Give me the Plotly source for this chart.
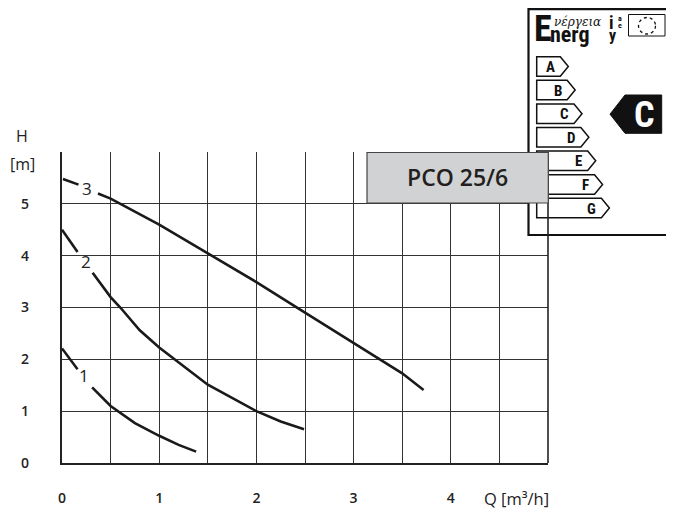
import plotly.graph_objects as go

# ---- data ----
q1 = [0.0, 0.16, None, 0.31, 0.5, 0.75, 1.0, 1.2, 1.38]
h1 = [2.21, 1.81, None, 1.46, 1.10, 0.77, 0.525, 0.35, 0.22]

q2 = [0.0, 0.16, None, 0.315, 0.5, 0.6, 0.8, 1.0, 1.5, 2.0, 2.25, 2.49]
h2 = [4.50, 4.07, None, 3.67, 3.20, 3.0, 2.56, 2.23, 1.51, 1.0, 0.80, 0.65]

q3 = [0.01, 0.17, None, 0.37, 0.5, 1.0, 1.5, 2.0, 2.5, 3.0, 3.5, 3.72]
h3 = [5.48, 5.37, None, 5.20, 5.10, 4.60, 4.05, 3.49, 2.90, 2.31, 1.73, 1.41]

curve_names = ["1", "2", "3"]
label_q = [0.23, 0.25, 0.26]
label_h = [1.68, 3.88, 5.30]

x_tickvals = [0, 0.5, 1, 1.5, 2, 2.5, 3, 3.5, 4, 4.5, 5]
x_ticktext = ["0", "", "1", "", "2", "", "3", "", "4", "", ""]
y_tickvals = [0, 1, 2, 3, 4, 5, 6]
y_ticktext = ["0", "1", "2", "3", "4", "5", ""]

model = "PCO 25/6"
energy_classes = ["A", "B", "C", "D", "E", "F", "G"]
rating = "C"

# ---- layout geometry (reference pixel positions) ----
W, H = 674, 511
OFF = 8  # default page body margin
FIG_H = H - OFF
L, R, T, B = 62, 548, 152, 463

COND = "Liberation Sans Narrow, Roboto Condensed, DejaVu Sans Condensed, Roboto, sans-serif"


def px(x):
    return (x - L) / (R - L)


def py(y):
    return (B - y) / (B - T)


def ann(x, y, text, size, family="Open Sans", color="#222", weight=None, xanchor="center",
        yanchor="middle"):
    f = dict(family=family, size=size, color=color)
    if weight:
        f["weight"] = weight
    return dict(x=px(x), y=py(y), xref="paper", yref="paper", text=text, showarrow=False,
                xanchor=xanchor, yanchor=yanchor, font=f)


fig = go.Figure()
for q, h in [(q1, h1), (q2, h2), (q3, h3)]:
    fig.add_trace(go.Scatter(x=q, y=h, mode="lines", connectgaps=False,
                             line=dict(color="#1a1a1a", width=2.6),
                             hoverinfo="skip", showlegend=False))

annotations = []
for name, lq, lh in zip(curve_names, label_q, label_h):
    annotations.append(dict(x=lq, y=lh, xref="x", yref="y", text=name, showarrow=False,
                            xanchor="center", yanchor="middle",
                            font=dict(family="Open Sans", size=17, color="#222")))

# axis titles
annotations.append(ann(21.7, 136, "H", 16))
annotations.append(ann(8, 164, "[m]", 16, xanchor="left"))
annotations.append(ann(482, 498, "Q [m³/h]", 16.5, xanchor="left"))

shapes = []
# energy label frame
shapes.append(dict(type="rect", xref="paper", yref="paper", x0=px(528.5), x1=px(669.3),
                   y0=py(9.2), y1=py(235), line=dict(color="#111", width=2.2), fillcolor="white",
                   layer="above"))
# flag box
shapes.append(dict(type="rect", xref="paper", yref="paper", x0=px(628.5), x1=px(665),
                   y0=py(14.5), y1=py(36), line=dict(color="#111", width=1), fillcolor="white",
                   layer="above"))
shapes.append(dict(type="circle", xref="paper", yref="paper", x0=px(638.5), x1=px(655.5),
                   y0=py(17.5), y1=py(34), line=dict(color="#111", width=1.3, dash="dot"),
                   layer="above"))
# class arrows
for i, c in enumerate(energy_classes):
    top = 56.7 + i * 23.6
    bot = top + 19.5
    mid = (top + bot) / 2
    tip = 568.3 + i * 6.85
    left = 536.7
    path = (f"M {px(left)},{py(top)} L {px(tip-8)},{py(top)} L {px(tip)},{py(mid)} "
            f"L {px(tip-8)},{py(bot)} L {px(left)},{py(bot)} Z")
    shapes.append(dict(type="path", xref="paper", yref="paper", path=path,
                       line=dict(color="#111", width=1.5), fillcolor="white", layer="above"))
    annotations.append(ann(tip - 17.5, mid + 0.5, f"<b>{c}</b>", 15, family=COND, color="#111"))

# rating arrow
rt, rb = 95, 133.3
rm = (rt + rb) / 2
path = (f"M {px(610)},{py(rm)} L {px(625)},{py(rt)} L {px(661.7)},{py(rt)} "
        f"L {px(661.7)},{py(rb)} L {px(625)},{py(rb)} Z")
shapes.append(dict(type="path", xref="paper", yref="paper", path=path,
                   line=dict(color="#111", width=1), fillcolor="#111", layer="above"))
annotations.append(ann(644, rm + 0.5, f"<b>{rating}</b>", 36, family=COND, color="white"))

# plot right border running through the label
shapes.append(dict(type="line", xref="paper", yref="paper", x0=1, x1=1, y0=0, y1=1,
                   line=dict(color="#222", width=1.6), layer="above"))
# model box
shapes.append(dict(type="rect", xref="paper", yref="paper", x0=px(367), x1=px(548.3),
                   y0=py(203), y1=py(152.5), line=dict(color="#444", width=1.2), fillcolor="#d1d2d4",
                   layer="above"))
annotations.append(ann(457.5, 177, model, 23, color="#231f20", weight=600))

# energy label header
annotations.append(ann(542.5, 29, "<b>E</b>", 36, family=COND, color="#111"))
annotations.append(ann(570, 34, "<b>nerg</b>", 22, family=COND, color="#111"))
annotations.append(ann(577.5, 21.5, "<i>νέργεια</i>", 12, family="DejaVu Serif", color="#111"))
annotations.append(ann(611.5, 22, "<b>i</b>", 18, family=COND, color="#111"))
annotations.append(ann(619.5, 18.5, "<b>a</b>", 8, family=COND, color="#111"))
annotations.append(ann(619.5, 25.5, "<b>e</b>", 8, family=COND, color="#111"))
annotations.append(ann(612.5, 35, "<b>y</b>", 16, family=COND, color="#111"))

axis_common = dict(showgrid=True, gridcolor="#333", gridwidth=1.1, zeroline=False,
                   showline=True, linecolor="#222", linewidth=2.2, mirror=False,
                   ticks="", automargin=False,
                   tickfont=dict(family="Open Sans", size=14, color="#222", weight=600),
                   fixedrange=True)

fig.update_layout(
    width=W - OFF, height=FIG_H, autosize=False,
    margin=dict(l=L - OFF, r=W - R, t=T - OFF, b=FIG_H + OFF - B, pad=0),
    paper_bgcolor="white", plot_bgcolor="white",
    xaxis=dict(range=[0, 5], tickmode="array", tickvals=x_tickvals, ticktext=x_ticktext,
               ticklabelstandoff=21, **axis_common),
    yaxis=dict(range=[0, 6], tickmode="array", tickvals=y_tickvals, ticktext=y_ticktext,
               ticklabelstandoff=28, **axis_common),
    shapes=shapes, annotations=annotations,
)

fig.write_html("out.html")
